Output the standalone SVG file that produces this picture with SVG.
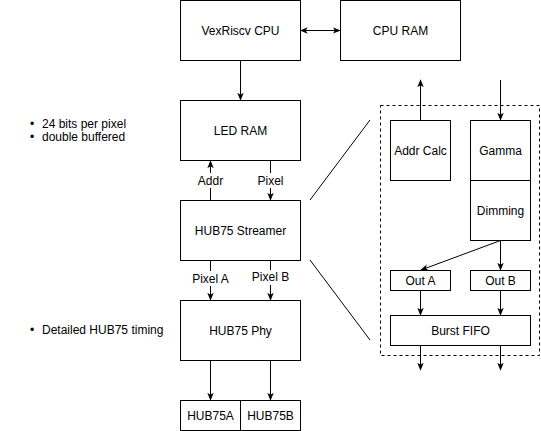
<svg xmlns="http://www.w3.org/2000/svg" width="541" height="431" viewBox="0 0 541 431">
<style>
rect.box{fill:#fff;stroke:#000;stroke-width:1}
text{font-family:"Liberation Sans",Arial,sans-serif;font-size:12px;fill:#000}
.c{text-anchor:middle;dominant-baseline:central}
.lbl{text-anchor:middle;dominant-baseline:central}
.ln{stroke:#000;stroke-width:1;fill:none}
</style>
<defs>
<marker id="ah" viewBox="0 0 10 10" refX="9" refY="5" markerWidth="8" markerHeight="8" markerUnits="userSpaceOnUse" orient="auto-start-reverse">
<path d="M0,1 L10,5 L0,9 L2.5,5 Z" fill="#000"/>
</marker>
</defs>
<g id="connectors">
<line class="ln" x1="300.5" y1="30.5" x2="340" y2="30.5" marker-start="url(#ah)" marker-end="url(#ah)"/>
<line class="ln" x1="240.5" y1="60.5" x2="240.5" y2="100" marker-end="url(#ah)"/>
<line class="ln" x1="210.5" y1="200" x2="210.5" y2="161" marker-end="url(#ah)"/>
<line class="ln" x1="270.5" y1="160.5" x2="270.5" y2="200" marker-end="url(#ah)"/>
<line class="ln" x1="210.5" y1="260.5" x2="210.5" y2="300" marker-end="url(#ah)"/>
<line class="ln" x1="270.5" y1="260.5" x2="270.5" y2="300" marker-end="url(#ah)"/>
<line class="ln" x1="210.5" y1="360.5" x2="210.5" y2="400" marker-end="url(#ah)"/>
<line class="ln" x1="270.5" y1="360.5" x2="270.5" y2="400" marker-end="url(#ah)"/>
<line class="ln" x1="310" y1="200" x2="370" y2="120"/>
<line class="ln" x1="310" y1="260" x2="370" y2="340"/>
<line class="ln" x1="420.5" y1="120" x2="420.5" y2="80" marker-end="url(#ah)"/>
<line class="ln" x1="500.5" y1="80" x2="500.5" y2="120" marker-end="url(#ah)"/>
<line class="ln" x1="500.5" y1="240.5" x2="500.5" y2="270" marker-end="url(#ah)"/>
<line class="ln" x1="500.5" y1="240.5" x2="421" y2="270" marker-end="url(#ah)"/>
<line class="ln" x1="420.5" y1="290.5" x2="420.5" y2="315" marker-end="url(#ah)"/>
<line class="ln" x1="500.5" y1="290.5" x2="500.5" y2="315" marker-end="url(#ah)"/>
<line class="ln" x1="420.5" y1="345.5" x2="420.5" y2="370" marker-end="url(#ah)"/>
<line class="ln" x1="500.5" y1="345.5" x2="500.5" y2="370" marker-end="url(#ah)"/>
<rect x="380.5" y="105.5" width="159" height="250" fill="none" stroke="#000" stroke-dasharray="3,3"/>
</g>
<g id="cpu"><rect class="box" x="180.5" y="0.5" width="120" height="60"/><text class="c" x="240.5" y="30.5">VexRiscv CPU</text></g>
<g id="cpuram"><rect class="box" x="340.5" y="0.5" width="120" height="60"/><text class="c" x="400.5" y="30.5">CPU RAM</text></g>
<g id="ledram"><rect class="box" x="180.5" y="100.5" width="120" height="60"/><text class="c" x="240.5" y="130.5">LED RAM</text></g>
<g id="streamer"><rect class="box" x="180.5" y="200.5" width="120" height="60"/><text class="c" x="240.5" y="230.5">HUB75 Streamer</text></g>
<g id="phy"><rect class="box" x="180.5" y="300.5" width="120" height="60"/><text class="c" x="240.5" y="330.5">HUB75 Phy</text></g>
<g id="hub75a"><rect class="box" x="180.5" y="400.5" width="60" height="30"/><text class="c" x="210.5" y="415.5">HUB75A</text></g>
<g id="hub75b"><rect class="box" x="240.5" y="400.5" width="60" height="30"/><text class="c" x="270.5" y="415.5">HUB75B</text></g>
<g id="addrcalc"><rect class="box" x="390.5" y="120.5" width="60" height="60"/><text class="c" x="420.5" y="150.5">Addr Calc</text></g>
<g id="gamma"><rect class="box" x="470.5" y="120.5" width="60" height="60"/><text class="c" x="500.5" y="150.5">Gamma</text></g>
<g id="dimming"><rect class="box" x="470.5" y="180.5" width="60" height="60"/><text class="c" x="500.5" y="210.5">Dimming</text></g>
<g id="outa"><rect class="box" x="390.5" y="270.5" width="60" height="20"/><text class="c" x="420.5" y="280.5">Out A</text></g>
<g id="outb"><rect class="box" x="470.5" y="270.5" width="60" height="20"/><text class="c" x="500.5" y="280.5">Out B</text></g>
<g id="burstfifo"><rect class="box" x="390.5" y="315.5" width="140" height="30"/><text class="c" x="460.5" y="330.5">Burst FIFO</text></g>
<g id="labels">
<rect x="196" y="173" width="29" height="15" fill="#fff"/><text class="lbl" x="210.5" y="180.5">Addr</text>
<rect x="257" y="173" width="27" height="15" fill="#fff"/><text class="lbl" x="270.5" y="180.5">Pixel</text>
<rect x="192" y="271" width="37" height="15" fill="#fff"/><text class="lbl" x="210.5" y="278.5">Pixel A</text>
<rect x="252" y="270" width="37" height="15" fill="#fff"/><text class="lbl" x="270.5" y="277">Pixel B</text>
</g>
<g id="notes">
<text x="30" y="128">•</text><text x="42" y="128">24 bits per pixel</text>
<text x="30" y="141">•</text><text x="42" y="141">double buffered</text>
<text x="30" y="334">•</text><text x="42" y="334">Detailed HUB75 timing</text>
</g>
</svg>
